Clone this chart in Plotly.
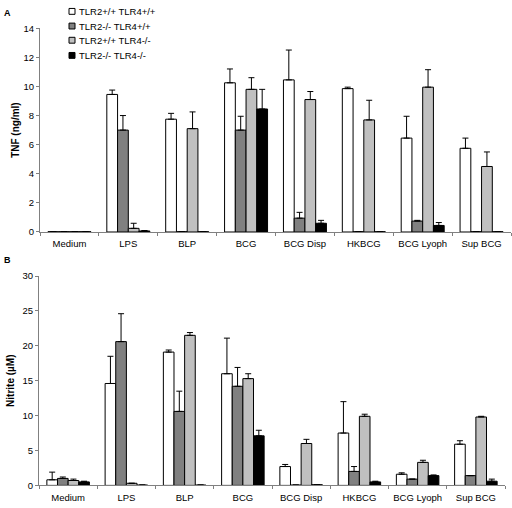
import plotly.graph_objects as go

categories = ["Medium", "LPS", "BLP", "BCG", "BCG Disp", "HKBCG", "BCG Lyoph", "Sup BCG"]
series_names = ["TLR2+/+ TLR4+/+", "TLR2-/- TLR4+/+", "TLR2+/+ TLR4-/-", "TLR2-/- TLR4-/-"]
colors = ["#ffffff", "#808080", "#c0c0c0", "#000000"]

# Panel A: TNF (ng/ml)
tnf_wt = [0.02, 9.45, 7.75, 10.25, 10.45, 9.85, 6.45, 5.75]
tnf_tlr2 = [0.02, 7.0, 0.02, 7.0, 0.95, 0.02, 0.75, 0.02]
tnf_tlr4 = [0.02, 0.25, 7.1, 9.8, 9.1, 7.7, 9.95, 4.5]
tnf_dko = [0.02, 0.07, 0.02, 8.45, 0.6, 0.02, 0.45, 0.02]
tnf_wt_err = [0, 0.3, 0.4, 0.95, 2.05, 0.1, 1.5, 0.7]
tnf_tlr2_err = [0, 1.0, 0, 0.95, 0.4, 0, 0.05, 0]
tnf_tlr4_err = [0, 0.35, 1.15, 0.8, 0.55, 1.35, 1.2, 1.0]
tnf_dko_err = [0, 0.03, 0, 1.35, 0.2, 0, 0.2, 0]

# Panel B: Nitrite (uM)
no_wt = [0.8, 14.6, 19.1, 16.0, 2.7, 7.5, 1.6, 5.9]
no_tlr2 = [1.0, 20.6, 10.6, 14.2, 0.05, 2.0, 0.9, 1.4]
no_tlr4 = [0.7, 0.3, 21.5, 15.3, 6.0, 9.9, 3.3, 9.8]
no_dko = [0.5, 0.05, 0.05, 7.1, 0.1, 0.5, 1.4, 0.6]
no_wt_err = [1.1, 3.9, 0.3, 5.1, 0.3, 4.5, 0.2, 0.5]
no_tlr2_err = [0.2, 4.0, 2.9, 2.7, 0, 0.7, 0, 0]
no_tlr4_err = [0.2, 0, 0.4, 0.7, 0.6, 0.3, 0.3, 0.1]
no_dko_err = [0.1, 0, 0, 0.8, 0, 0.1, 0.1, 0.3]

tnf_vals = [tnf_wt, tnf_tlr2, tnf_tlr4, tnf_dko]
tnf_errs = [tnf_wt_err, tnf_tlr2_err, tnf_tlr4_err, tnf_dko_err]
no_vals = [no_wt, no_tlr2, no_tlr4, no_dko]
no_errs = [no_wt_err, no_tlr2_err, no_tlr4_err, no_dko_err]

fig = go.Figure()
FONT = "Liberation Sans, Arial, sans-serif"

for i in range(4):
    fig.add_trace(go.Bar(
        x=categories, y=tnf_vals[i], name=series_names[i],
        marker=dict(color=colors[i], line=dict(color="#000000", width=1)),
        error_y=dict(type="data", array=tnf_errs[i], arrayminus=[0] * 8, symmetric=False,
                     color="#000000", thickness=1, width=3),
        xaxis="x", yaxis="y", showlegend=False))
for i in range(4):
    fig.add_trace(go.Bar(
        x=categories, y=no_vals[i], name=series_names[i],
        marker=dict(color=colors[i], line=dict(color="#000000", width=1)),
        error_y=dict(type="data", array=no_errs[i], arrayminus=[0] * 8, symmetric=False,
                     color="#000000", thickness=1, width=3),
        xaxis="x2", yaxis="y2", showlegend=False))

W, H = 512, 508
axis_common = dict(showline=True, linecolor="#808080", linewidth=1, showgrid=False,
                   zeroline=False, ticks="outside", tickcolor="#808080", ticklen=3,
                   tickfont=dict(size=9.5, color="#000000", family=FONT))

# Custom legend (small squares, tight spacing as in the reference)
shapes = []
annotations = []
leg_rows_y = [5.5, 20.5, 35.0, 50.5]
for i, name in enumerate(series_names):
    yc = leg_rows_y[i]
    shapes.append(dict(type="rect", xref="paper", yref="paper",
                       x0=69 / W, x1=75 / W, y0=1 - (yc + 3) / H, y1=1 - (yc - 3) / H,
                       fillcolor=colors[i], line=dict(color="#000000", width=1)))
    annotations.append(dict(text=name, x=76.5 / W, y=1 - yc / H, xref="paper", yref="paper",
                            xanchor="left", yanchor="middle", showarrow=False,
                            font=dict(size=9.5, family=FONT, color="#000000")))

annotations += [
    dict(text="<b>A</b>", x=2 / W, y=1 - 0 / H, xref="paper", yref="paper",
         xanchor="left", yanchor="top", showarrow=False, font=dict(size=9, family=FONT)),
    dict(text="<b>B</b>", x=2 / W, y=1 - 252 / H, xref="paper", yref="paper",
         xanchor="left", yanchor="top", showarrow=False, font=dict(size=9, family=FONT)),
]

fig.update_layout(
    width=W, height=H,
    margin=dict(l=0, r=0, t=0, b=0),
    paper_bgcolor="white", plot_bgcolor="white",
    barmode="group", bargap=0.27, bargroupgap=0,
    font=dict(family=FONT, size=9.5, color="#000000"),
    showlegend=False,
    xaxis=dict(domain=[40 / W, 511 / W], anchor="y", type="category",
               tickson="boundaries", ticklabelstandoff=3, **axis_common),
    yaxis=dict(domain=[1 - 231 / H, 1 - 22.7 / H], anchor="x", range=[0, 14], dtick=2,
               title=dict(text="<b>TNF (ng/ml)</b>", font=dict(size=10, family=FONT), standoff=2),
               **axis_common),
    xaxis2=dict(domain=[39 / W, 505 / W], anchor="y2", type="category",
                tickson="boundaries", ticklabelstandoff=3, **axis_common),
    yaxis2=dict(domain=[1 - 490 / H, 1 - 276 / H], anchor="x2", range=[0, 30], dtick=5,
                title=dict(text="<b>Nitrite (µM)</b>", font=dict(size=10, family=FONT), standoff=6),
                **axis_common),
    shapes=shapes,
    annotations=annotations,
)

fig.write_html("out.html", config={"displayModeBar": False},
               post_script="document.body.style.margin='0';")
